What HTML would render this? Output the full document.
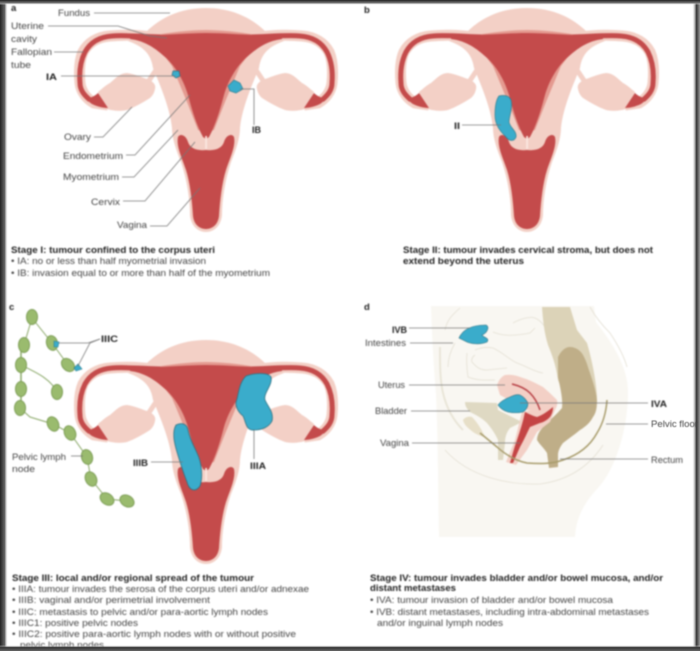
<!DOCTYPE html>
<html><head><meta charset="utf-8"><style>
html,body{margin:0;padding:0;background:#fff;width:700px;height:651px;overflow:hidden}
svg{display:block;position:absolute;left:0;top:0}
text{font-family:"Liberation Sans",sans-serif;font-size:9.5px;fill:#444}
.b{font-weight:bold;fill:#222}
.l{stroke:#777;stroke-width:.8;fill:none}
</style></head><body>
<svg width="700" height="651" viewBox="0 0 700 651" style="filter:blur(.7px)">
<defs>
<g id="half">
<path d="M160 38C135 34 120 35 110 36C97 37 88 43 83 52C79 61 79 72 80 83C81 92 87 99 94 103L108 105" fill="none" stroke="#f3d0c6" stroke-width="11"/>
<path d="M98 92C103 88 106 85 110 83C116 78 120 73 127 73C135 74 143 78 150 80C154 83 156 85 155 89C154 94 152 96 150 98C142 103 135 107 127 110C118 112 110 110 103 108Z" fill="#f3d0c6"/>
<path d="M160 64L148 82" stroke="#f3d0c6" stroke-width="5" fill="none"/>
<path d="M206 8C180 8 160 18 146 32L128 41C142 46 151 53 153 68C160 85 170 108 172 128C172 138 176 150 181 162C187 180 190 200 190 215C191 226 198 232 206 232Z" fill="#f3d0c6"/>
<path d="M206 30C190 30 172 32 150 36L150 44L163 54L172 66L187 102L198 130L206 132Z" fill="#e49a90"/>
<path d="M160 37C135 36 122 35 112 36C98 37 90 43 85 52C81 60 79 71 80 83C80 90 84 95 90 100" fill="none" stroke="#c44b4b" stroke-width="5"/>
<path d="M206 33C188 33 170 35 150 35L130 35L130 39C146 41 156 49 165 57C174 65 183 78 188 95C192 110 196 124 203 137L206 139Z" fill="#c44b4b"/>
<path d="M98 93L108 108C102 108 96 106 92 104C89 102 87 100 87 98C91 98 95 96 98 93Z" fill="#c44b4b"/>
<path d="M206 150C196 151 190 148 188 142C186 135 180 133 178 137C176 146 182 158 186 170C190 183 192 200 193 216C194 225 200 229 206 229Z" fill="#c44b4b"/>
</g>
<g id="ut"><use href="#half"/><use href="#half" transform="translate(412) scale(-1 1)"/><rect x="205.2" y="136" width="1.8" height="13" fill="#fbe6e0"/></g>
<g id="ln"><ellipse rx="5.5" ry="7.5" fill="#9abb6e" stroke="#7f9f58" stroke-width="1"/></g>
</defs>
<rect width="700" height="651" fill="#fff"/>

<!-- a -->
<use href="#ut"/>
<path d="M173 71L179 71L180 76L176 78L172 75Z" fill="#3aaccb" stroke="#2f6f80" stroke-width=".7"/>
<path d="M228 86L234 80L240 83L243 89L236 93L230 91Z" fill="#3aaccb" stroke="#2f7f90" stroke-width=".7"/>
<g class="l">
<path d="M94 13H170"/><path d="M48 26H118L150 36L167 38"/><path d="M54 52H75L84 52"/><path d="M61 76H175"/>
<path d="M240 89H254V125"/><path d="M94 137H103L132 107"/><path d="M126 155H135L190 95"/>
<path d="M122 177H134L178 130"/><path d="M123 201H145L195 142"/><path d="M150 226H167L200 188"/>
</g>
<text x="11" y="11" class="b" font-size="10">a</text>
<text x="58" y="16" textLength="32" lengthAdjust="spacingAndGlyphs">Fundus</text>
<text x="11" y="29" textLength="33" lengthAdjust="spacingAndGlyphs">Uterine</text>
<text x="11" y="42" textLength="26" lengthAdjust="spacingAndGlyphs">cavity</text>
<text x="11" y="55" textLength="41" lengthAdjust="spacingAndGlyphs">Fallopian</text>
<text x="11" y="68" textLength="20" lengthAdjust="spacingAndGlyphs">tube</text>
<text x="46" y="80" class="b" textLength="11" lengthAdjust="spacingAndGlyphs">IA</text>
<text x="64" y="140" textLength="27" lengthAdjust="spacingAndGlyphs">Ovary</text>
<text x="63" y="159" textLength="60" lengthAdjust="spacingAndGlyphs">Endometrium</text>
<text x="63" y="180" textLength="56" lengthAdjust="spacingAndGlyphs">Myometrium</text>
<text x="91" y="205" textLength="29" lengthAdjust="spacingAndGlyphs">Cervix</text>
<text x="117" y="228" textLength="30" lengthAdjust="spacingAndGlyphs">Vagina</text>
<text x="252" y="133" class="b" textLength="9" lengthAdjust="spacingAndGlyphs">IB</text>
<text x="11" y="253" class="b" textLength="204" lengthAdjust="spacingAndGlyphs">Stage I: tumour confined to the corpus uteri</text>
<text x="11" y="264" textLength="195" lengthAdjust="spacingAndGlyphs">• IA: no or less than half myometrial invasion</text>
<text x="11" y="276" textLength="259" lengthAdjust="spacingAndGlyphs">• IB: invasion equal to or more than half of the myometrium</text>

<!-- b -->
<use href="#ut" transform="translate(321 0)"/>
<path d="M499 96C503 95 509 95 511 100C513 108 509 116 509 122C510 128 517 131 516 137C514 142 509 141 506 137C500 131 495 125 495 115C495 107 496 100 499 96Z" fill="#3aaccb" stroke="#2f7f90" stroke-width=".7"/>
<path class="l" d="M462 125H501"/>
<text x="364" y="13" class="b" font-size="10">b</text>
<text x="454" y="129" class="b" textLength="6" lengthAdjust="spacingAndGlyphs">II</text>
<text x="403" y="253" class="b" textLength="250" lengthAdjust="spacingAndGlyphs">Stage II: tumour invades cervical stroma, but does not</text>
<text x="403" y="264" class="b" textLength="121" lengthAdjust="spacingAndGlyphs">extend beyond the uterus</text>

<!-- c -->
<use href="#ut" transform="translate(0 332)"/>
<path d="M246 376C254 373 268 372 271 377C273 385 263 393 265 400C268 407 274 412 272 421C269 427 262 430 254 430C246 431 246 422 243 416C238 412 234 405 237 399C239 390 240 382 246 376Z" fill="#3aaccb" stroke="#2f7080" stroke-width=".8"/>
<path d="M176 425C182 422 187 424 188 430C190 440 194 446 197 453C202 463 203 478 200 486C195 493 189 490 187 482C183 472 180 462 177 452C174 442 172 432 176 425Z" fill="#3aaccb" stroke="#2f7080" stroke-width=".8"/>
<path d="M24 345L32 318M32 318L52 343L68 365L75 369M21 365C35 372 50 378 57 392M20 408L30 417L53 424L70 433L87 457L91 479L107 499L127 501" stroke="#8aa868" stroke-width="1" fill="none"/>
<path d="M21 345V408" stroke="#8aa868" stroke-width="1.5"/>
<use href="#ln" transform="translate(32 317)"/>
<use href="#ln" transform="translate(24 345)"/>
<use href="#ln" transform="translate(21 365)"/>
<use href="#ln" transform="translate(21 389)"/>
<use href="#ln" transform="translate(20 408)"/>
<use href="#ln" transform="translate(57 392)"/>
<use href="#ln" transform="translate(52 343) rotate(-15)"/>
<use href="#ln" transform="translate(68 365) rotate(-45)"/>
<use href="#ln" transform="translate(53 424) rotate(-25)"/>
<use href="#ln" transform="translate(70 433) rotate(-25)"/>
<use href="#ln" transform="translate(87 457) rotate(-15)"/>
<use href="#ln" transform="translate(91 479) rotate(-25)"/>
<use href="#ln" transform="translate(107 499) rotate(-55)"/>
<use href="#ln" transform="translate(127 501) rotate(-60)"/>
<path d="M54 341L59 342L58 347L54 347Z" fill="#3aaccb" stroke="#2f7f90" stroke-width=".6"/>
<path d="M74 368L78 364L82 369L76 371Z" fill="#3aaccb" stroke="#2f7f90" stroke-width=".6"/>
<g class="l">
<path d="M59 343H88L100 339"/><path d="M78 366L90 343L100 339"/><path d="M71 456H83"/><path d="M151 462H183"/><path d="M254 430V459"/>
</g>
<text x="9" y="310" class="b" font-size="10">c</text>
<text x="101" y="342" class="b" textLength="17" lengthAdjust="spacingAndGlyphs">IIIC</text>
<text x="12" y="460" textLength="54" lengthAdjust="spacingAndGlyphs">Pelvic lymph</text>
<text x="12" y="472" textLength="23" lengthAdjust="spacingAndGlyphs">node</text>
<text x="133" y="466" class="b" textLength="15" lengthAdjust="spacingAndGlyphs">IIIB</text>
<text x="250" y="469" class="b" textLength="16" lengthAdjust="spacingAndGlyphs">IIIA</text>
<text x="12" y="581" class="b" textLength="242" lengthAdjust="spacingAndGlyphs">Stage III: local and/or regional spread of the tumour</text>
<text x="12" y="592" textLength="297" lengthAdjust="spacingAndGlyphs">• IIIA: tumour invades the serosa of the corpus uteri and/or adnexae</text>
<text x="12" y="603" textLength="198" lengthAdjust="spacingAndGlyphs">• IIIB: vaginal and/or perimetrial involvement</text>
<text x="12" y="615" textLength="256" lengthAdjust="spacingAndGlyphs">• IIIC: metastasis to pelvic and/or para-aortic lymph nodes</text>
<text x="12" y="626" textLength="126" lengthAdjust="spacingAndGlyphs">• IIIC1: positive pelvic nodes</text>
<text x="12" y="637" textLength="284" lengthAdjust="spacingAndGlyphs">• IIIC2: positive para-aortic lymph nodes with or without positive</text>
<text x="20" y="648" textLength="84" lengthAdjust="spacingAndGlyphs">pelvic lymph nodes</text>

<!-- d -->
<path d="M431 306C432 340 434 370 436 395C438 440 438 490 439 537H575C576 520 582 505 598 488C615 470 628 430 628 392C628 365 610 340 596 322L594 306Z" fill="#f9f7f2"/>
<g fill="none" stroke="#e4e0d4" stroke-width=".8">
<path d="M493 332C500 335 510 337 530 333L535 328M513 323C520 319 530 316 535 318C540 320 543 324 545 327"/>
<path d="M475 350C482 347 488 347 493 348C502 352 510 360 517 363C528 367 535 372 543 373"/>
<path d="M475 355C471 358 471 362 473 363C478 369 482 370 487 370L507 368"/>
<path d="M467 353C466 362 467 370 468 377C478 381 488 380 495 380"/>
<path d="M455 343C451 350 448 358 448 367M460 308C452 315 447 320 445 330"/>
<path d="M590 307C596 318 605 328 610 333C618 345 624 356 627 367"/>
<path d="M445 450C470 478 510 485 540 484C570 480 590 465 603 445"/>
</g>
<path d="M440 347C440 365 440 380 443 393C447 410 455 422 463 430" fill="none" stroke="#e8e4d6" stroke-width="1.8"/>
<path d="M542 307H570L577 330L587 343C592 360 596 380 597 397L595 413L575 420L558 380C556 365 552 355 548 345C544 332 543 320 542 307Z" fill="#dcd3b8"/>
<path d="M558 357C561 351 565 347 570 347C576 347 581 351 583 355C587 362 588 368 590 373C593 382 596 391 597 400C597 408 596 413 593 417C590 423 585 427 580 430C574 435 568 439 563 443C560 447 558 451 558 455L558 467L549 468L547 453C544 448 540 445 537 440C537 434 541 429 545 425C551 419 557 414 562 408C563 398 560 387 558 377Z" fill="#bfae88"/>
<path d="M497 385C499 380 501 377 505 375C512 374 518 376 523 378C530 380 537 384 543 387C549 392 553 396 557 400C558 405 556 409 553 412L527 410L500 395Z" fill="#f3d0c6"/>
<path d="M465 402L497 403L498 410L522 422L510 428C506 433 505 438 505 443L503 460H498V440C495 433 491 428 487 423C482 418 476 415 470 412C467 409 465 406 465 402Z" fill="#dfd9c3"/>
<path d="M463 420C465 417 469 416 472 417C477 422 482 430 485 437C480 436 476 434 473 432C468 428 464 425 463 420Z" fill="#e7dfc8"/>
<path d="M522 412L557 405L550 422L537 432L527 450L516 465L506 462L515 440Z" fill="#f3d0c6"/>
<path d="M525 412C529 414 533 416 537 417C543 415 548 411 553 407C553 411 552 414 550 417C547 420 544 422 540 423L530 427C527 433 524 440 520 447L513 463L510 463C512 456 514 448 517 440C520 431 523 422 525 412Z" fill="#c44444"/>
<path d="M512 384C520 386 526 389 530 393C535 398 538 404 540 410" stroke="#b63d42" stroke-width="1.5" fill="none"/>
<path d="M498 405C501 401 505 399 510 397C514 395 517 394 520 395C524 397 526 400 528 403C528 407 526 410 523 412C518 413 513 413 508 412C504 411 500 408 498 405Z" fill="#3aaccb" stroke="#2f7080" stroke-width=".6"/>
<path d="M607 400C606 415 602 425 597 433C590 446 578 455 563 460C552 464 540 464 527 463C517 461 506 455 497 447C491 442 485 437 480 433" stroke="#a89c6c" stroke-width="1.5" fill="none"/>
<path d="M459 338C463 329 472 325 486 325C490 327 487 333 482 335C484 338 490 338 487 342C480 345 470 344 465 341Z" fill="#3aaccb" stroke="#2f7080" stroke-width=".6"/>
<g class="l">
<path d="M409 328H470"/><path d="M410 343H453"/><path d="M409 385H505"/><path d="M411 411H470"/>
<path d="M412 443H520"/><path d="M520 403H648"/><path d="M606 424H648"/><path d="M560 459H648"/>
</g>
<text x="364" y="310" class="b" font-size="10">d</text>
<text x="392" y="333" class="b" textLength="15" lengthAdjust="spacingAndGlyphs">IVB</text>
<text x="365" y="346" textLength="41" lengthAdjust="spacingAndGlyphs">Intestines</text>
<text x="378" y="388" textLength="27" lengthAdjust="spacingAndGlyphs">Uterus</text>
<text x="375" y="414" textLength="32" lengthAdjust="spacingAndGlyphs">Bladder</text>
<text x="380" y="446" textLength="29" lengthAdjust="spacingAndGlyphs">Vagina</text>
<text x="651" y="407" class="b" textLength="16" lengthAdjust="spacingAndGlyphs">IVA</text>
<text x="651" y="463" textLength="32" lengthAdjust="spacingAndGlyphs">Rectum</text>
<text x="370" y="581" class="b" textLength="293" lengthAdjust="spacingAndGlyphs">Stage IV: tumour invades bladder and/or bowel mucosa, and/or</text>
<text x="370" y="591" class="b" textLength="86" lengthAdjust="spacingAndGlyphs">distant metastases</text>
<text x="370" y="603" textLength="243" lengthAdjust="spacingAndGlyphs">• IVA: tumour invasion of bladder and/or bowel mucosa</text>
<text x="370" y="615" textLength="279" lengthAdjust="spacingAndGlyphs">• IVB: distant metastases, including intra-abdominal metastases</text>
<text x="377" y="626" textLength="126" lengthAdjust="spacingAndGlyphs">and/or inguinal lymph nodes</text>
</svg>
<svg width="700" height="651" viewBox="0 0 700 651">
<defs>
<linearGradient id="gl" x1="0" x2="1" y1="0" y2="0"><stop offset="0" stop-color="#222"/><stop offset=".6" stop-color="#666"/><stop offset="1" stop-color="#fff" stop-opacity="0"/></linearGradient>
<linearGradient id="gr" x1="0" x2="1" y1="0" y2="0"><stop offset="0" stop-color="#fff" stop-opacity="0"/><stop offset=".55" stop-color="#333"/><stop offset="1" stop-color="#999"/></linearGradient>
<linearGradient id="gt" x1="0" x2="0" y1="0" y2="1"><stop offset="0" stop-color="#222"/><stop offset=".6" stop-color="#777"/><stop offset="1" stop-color="#fff" stop-opacity="0"/></linearGradient>
<linearGradient id="gb" x1="0" x2="0" y1="0" y2="1"><stop offset="0" stop-color="#fff" stop-opacity="0"/><stop offset=".4" stop-color="#333"/><stop offset="1" stop-color="#666"/></linearGradient>
</defs>
<rect x="0" y="0" width="8" height="651" fill="url(#gl)"/>
<rect x="692" y="0" width="8" height="651" fill="url(#gr)"/>
<rect x="0" y="0" width="700" height="5" fill="url(#gt)"/>
<rect x="0" y="645" width="700" height="6" fill="url(#gb)"/>
<text x="651" y="427" textLength="47" lengthAdjust="spacingAndGlyphs" style="filter:blur(.6px)">Pelvic floor</text>
</svg>
</body></html>
